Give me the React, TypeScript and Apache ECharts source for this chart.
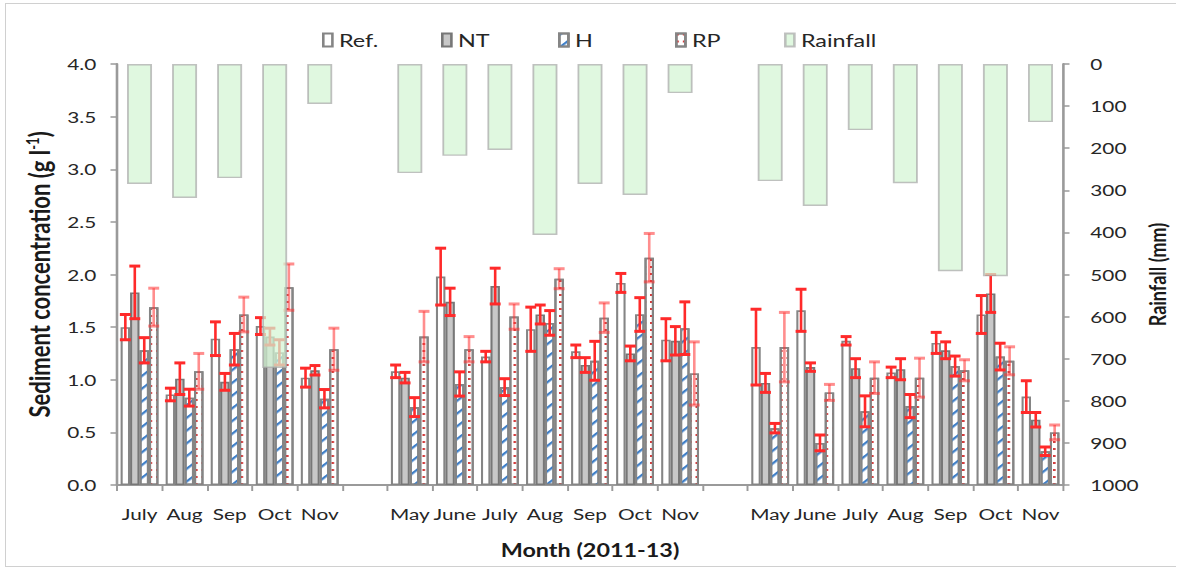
import React, { useEffect, useRef } from 'react';
import * as echarts from 'echarts';

// Months sampled over the three seasons; '' marks the gap between years
const months = ['July', 'Aug', 'Sep', 'Oct', 'Nov', '', 'May', 'June', 'July', 'Aug', 'Sep', 'Oct', 'Nov', '', 'May', 'June', 'July', 'Aug', 'Sep', 'Oct', 'Nov'];

// Sediment concentration (g/l) per treatment, with standard errors
const refConc = [1.50, 0.86, 1.39, 1.51, 1.02, null, 1.08, 1.98, 1.22, 1.48, 1.27, 1.92, 1.38, null, 1.31, 1.66, 1.37, 1.07, 1.35, 1.62, 0.84];
const refErr = [0.12, 0.06, 0.16, 0.08, 0.09, null, 0.06, 0.27, 0.05, 0.21, 0.06, 0.09, 0.20, null, 0.36, 0.20, 0.04, 0.05, 0.10, 0.18, 0.15];
const ntConc = [1.83, 1.01, 0.98, 1.41, 1.09, null, 1.02, 1.74, 1.89, 1.62, 1.14, 1.25, 1.37, null, 0.97, 1.12, 1.11, 1.10, 1.28, 1.82, 0.62];
const ntErr = [0.25, 0.15, 0.08, 0.08, 0.045, null, 0.05, 0.13, 0.17, 0.09, 0.07, 0.07, 0.135, null, 0.09, 0.04, 0.09, 0.10, 0.08, 0.18, 0.07];
const hConc = [1.28, 0.83, 1.29, 1.26, 0.82, null, 0.74, 0.96, 0.93, 1.54, 1.18, 1.62, 1.49, null, 0.54, 0.40, 0.70, 0.75, 1.13, 1.22, 0.32];
const hErr = [0.12, 0.08, 0.15, 0.12, 0.087, null, 0.09, 0.115, 0.08, 0.117, 0.185, 0.16, 0.25, null, 0.045, 0.075, 0.147, 0.11, 0.095, 0.127, 0.04];
const rpConc = [1.69, 1.08, 1.62, 1.88, 1.29, null, 1.41, 1.29, 1.60, 1.96, 1.59, 2.16, 1.06, null, 1.31, 0.88, 1.02, 1.02, 1.09, 1.18, 0.50];
const rpErr = [0.18, 0.17, 0.165, 0.22, 0.20, null, 0.24, 0.12, 0.12, 0.095, 0.14, 0.23, 0.30, null, 0.33, 0.076, 0.15, 0.185, 0.10, 0.133, 0.07];

// Monthly rainfall (mm), plotted downward from the top
const rainfall = [285, 318, 271, 722, 95, null, 259, 218, 204, 406, 285, 311, 69, null, 278, 337, 157, 283, 492, 504, 138];

const leftTicks = { min: 0, max: 4, interval: 0.5 };
const rightTicks = { min: 0, max: 1000, interval: 100 };

const W = 1177;
const H = 571;
const STRETCH = 1.3;
const W0 = W / STRETCH;
const CAT_GAP = 0.16;
const FONT = 'Lato, "Open Sans", sans-serif';

const treatments = [
  { name: 'Ref.', vals: refConc, errs: refErr, errColor: '#ff2a2a' },
  { name: 'NT', vals: ntConc, errs: ntErr, errColor: '#ff2a2a' },
  { name: 'H', vals: hConc, errs: hErr, errColor: '#ff2a2a' },
  { name: 'RP', vals: rpConc, errs: rpErr, errColor: 'rgba(255,50,50,0.55)' },
];

const barStyles: any[] = [
  { color: '#ffffff', borderColor: '#858585', borderWidth: 1.6 },
  { color: '#c8c8c8', borderColor: '#777777', borderWidth: 1.6 },
  {
    color: '#ffffff', borderColor: '#858585', borderWidth: 1.6,
    decal: { symbol: 'rect', symbolSize: 1, dashArrayX: [1, 0], dashArrayY: [1.2, 7], rotation: -Math.PI / 4, color: '#3f7fc8', backgroundColor: '#ffffff' },
  },
  {
    color: '#ffffff', borderColor: '#858585', borderWidth: 1.6,
    decal: { symbol: 'rect', symbolSize: 1, dashArrayX: [1.3, 2.6], dashArrayY: [1.6, 4.5], color: '#d23c3c', backgroundColor: '#ffffff' },
  },
];

const legendX = [322, 441, 558, 675, 784];

function errorSeries(k: number) {
  const t = treatments[k];
  const data: any[] = [];
  t.vals.forEach((v, i) => {
    if (v != null) data.push([i, v, t.errs[i]]);
  });
  return {
    type: 'custom',
    name: t.name + ' SE',
    xAxisIndex: 0,
    yAxisIndex: 0,
    z: 5,
    silent: true,
    data,
    renderItem: (_params: any, api: any) => {
      const i = api.value(0);
      const v = api.value(1);
      const e = api.value(2);
      const band = api.size([1, 0])[0];
      const bw = (band * (1 - CAT_GAP)) / 4;
      const x = api.coord([i, v])[0] + (k - 1.5) * bw;
      const yTop = api.coord([i, v + e])[1];
      const yBot = api.coord([i, v - e])[1];
      const hw = 4.2;
      const stroke = t.errColor;
      return {
        type: 'group',
        children: [
          { type: 'line', shape: { x1: x, y1: yTop, x2: x, y2: yBot }, style: { stroke, lineWidth: 2 } },
          { type: 'line', shape: { x1: x - hw, y1: yTop, x2: x + hw, y2: yTop }, style: { stroke, lineWidth: 3 } },
          { type: 'line', shape: { x1: x - hw, y1: yBot, x2: x + hw, y2: yBot }, style: { stroke, lineWidth: 3 } },
        ],
      };
    },
  };
}

export default function App() {
  const ref = useRef<HTMLDivElement>(null);

  useEffect(() => {
    if (!ref.current) return;
    const chart = echarts.init(ref.current, null, { renderer: 'svg', width: W0, height: H });

    const axisLineStyle = { color: '#9a9a9a', width: 2 };
    const tickStyle = { color: '#9a9a9a', width: 1.5 };
    const labelStyle = { fontFamily: FONT, fontSize: 16, color: '#262626' };

    const option: any = {
      animation: false,
      backgroundColor: '#ffffff',
      grid: {
        left: 117 / STRETCH,
        right: W0 - 1063 / STRETCH,
        top: 64,
        bottom: H - 485,
        outerBoundsMode: 'none',
      },
      legend: ['Ref.', 'NT', 'H', 'RP', 'Rainfall'].map((n, i) => ({
        data: [n],
        left: legendX[i] / STRETCH,
        top: 31,
        padding: 0,
        icon: 'rect',
        itemWidth: 7,
        itemHeight: 13,
        selectedMode: false,
        textStyle: { fontFamily: FONT, fontSize: 18, color: '#262626' },
      })),
      xAxis: [
        {
          type: 'category',
          data: months,
          axisLine: { lineStyle: axisLineStyle },
          axisTick: { show: true, length: 6, lineStyle: tickStyle },
          axisLabel: { ...labelStyle, interval: 0, margin: 21 },
          name: 'Month (2011-13)',
          nameLocation: 'middle',
          nameGap: 56,
          nameTextStyle: { fontFamily: FONT, fontWeight: 'bold', fontSize: 18, color: '#1a1a1a' },
        },
        { type: 'category', data: months, show: false },
      ],
      yAxis: [
        {
          type: 'value',
          position: 'left',
          ...leftTicks,
          axisLine: { show: true, lineStyle: axisLineStyle },
          axisTick: { show: true, length: 5, lineStyle: tickStyle },
          splitLine: { show: false },
          axisLabel: { ...labelStyle, margin: 16, formatter: (v: number) => v.toFixed(1) },
          name: 'Sediment concentration (g l{sup|-1})',
          nameLocation: 'middle',
          nameGap: 38,
          nameTextStyle: {
            fontFamily: FONT, fontWeight: 'bold', fontSize: 22, color: '#1a1a1a',
            rich: { sup: { fontFamily: FONT, fontWeight: 'bold', fontSize: 13, verticalAlign: 'top', padding: [0, 0, 10, 0] } },
          },
        },
        {
          type: 'value',
          position: 'right',
          inverse: true,
          ...rightTicks,
          axisLine: { show: true, lineStyle: axisLineStyle },
          axisTick: { show: true, length: 5, lineStyle: tickStyle },
          splitLine: { show: false },
          axisLabel: { ...labelStyle, margin: 21, formatter: (v: number) => String(v) },
          name: 'Rainfall (mm)',
          nameLocation: 'middle',
          nameGap: 63,
          nameRotate: 90,
          nameMoveOverlap: false,
          nameTextStyle: { fontFamily: FONT, fontWeight: 'bold', fontSize: 18, color: '#1a1a1a' },
        },
      ],
      series: [
        ...treatments.map((t, k) => ({
          type: 'bar',
          name: t.name,
          xAxisIndex: 0,
          yAxisIndex: 0,
          data: t.vals.map((v) => (v == null ? '-' : v)),
          barGap: '0%',
          barCategoryGap: `${CAT_GAP * 100}%`,
          itemStyle: barStyles[k],
          z: 2,
        })),
        ...treatments.map((_t, k) => errorSeries(k)),
        {
          type: 'bar',
          name: 'Rainfall',
          xAxisIndex: 1,
          yAxisIndex: 1,
          data: rainfall.map((v) => (v == null ? '-' : v)),
          barWidth: 25 / STRETCH,
          itemStyle: { color: 'rgb(212,245,212)', borderColor: '#a9a9a9', borderWidth: 1.4, opacity: 0.72 },
          z: 10,
        },
      ],
    };

    chart.setOption(option);
    return () => chart.dispose();
  }, []);

  return (
    <div style={{ position: 'absolute', left: 0, top: 0, width: W, height: H, overflow: 'hidden', background: '#ffffff' }}>
      <div
        ref={ref}
        style={{ position: 'absolute', left: 0, top: 0, width: W0, height: H, transform: `scaleX(${STRETCH})`, transformOrigin: '0 0' }}
      />
      <div
        style={{ position: 'absolute', left: 5, top: 3, width: 1170, height: 562, border: '1px solid #d0d0d0', borderRight: 'none', pointerEvents: 'none' }}
      />
    </div>
  );
}
